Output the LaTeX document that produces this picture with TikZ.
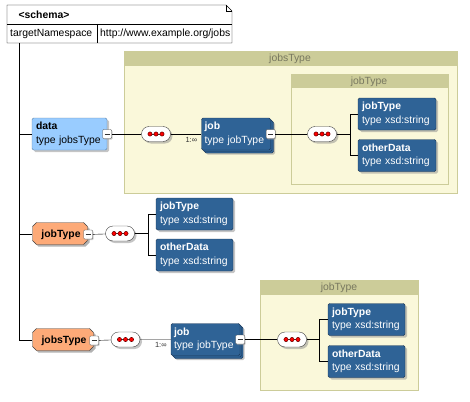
\documentclass[tikz,border=0pt]{standalone}
\usepackage{fontspec}
\setmainfont{Liberation Sans}
\usetikzlibrary{shadows}

\definecolor{elblue}{HTML}{2F6396}
\definecolor{elborder}{HTML}{1B3656}
\definecolor{ltblue}{HTML}{99CCFF}
\definecolor{ltborder}{HTML}{5F84A8}
\definecolor{elorange}{HTML}{FDAA78}
\definecolor{contfill}{HTML}{FAF8DA}
\definecolor{contband}{HTML}{CCCC99}
\definecolor{conttext}{HTML}{77775F}

\newcommand\xsdfont{\fontsize{10.4}{13.5}\selectfont}
% octagon outline inside a node, shifted by #1,#2
\newcommand\octpts[2]{([shift={(#1+4.5pt,#2-0.5pt)}]path picture bounding box.north west)
  -- ([shift={(#1-6.5pt,#2-0.5pt)}]path picture bounding box.north east)
  -- ([shift={(#1-2.5pt,#2-4.5pt)}]path picture bounding box.north east)
  -- ([shift={(#1-2.5pt,#2+6.5pt)}]path picture bounding box.south east)
  -- ([shift={(#1-6.5pt,#2+2.5pt)}]path picture bounding box.south east)
  -- ([shift={(#1+4.5pt,#2+2.5pt)}]path picture bounding box.south west)
  -- ([shift={(#1+0.5pt,#2+6.5pt)}]path picture bounding box.south west)
  -- ([shift={(#1+0.5pt,#2-4.5pt)}]path picture bounding box.north west) -- cycle}

\begin{document}
\begin{tikzpicture}[x=1pt, y=-1pt, font=\xsdfont,
    shade/.style={drop shadow={shadow xshift=2pt, shadow yshift=-2pt, fill=black!45, opacity=0.5}},
    elem/.style={draw=elborder, fill=elblue, text=white, rounded corners=1.5pt,
      align=left, text width=#1, inner xsep=4pt, inner ysep=0pt, minimum height=32pt, shade},
    dataelem/.style={elem=#1, draw=ltborder, fill=ltblue, text=black},
    multielem/.style={draw=elborder, fill=elblue, text=white, rounded corners=1.5pt,
      align=left, text width=#1, inner xsep=3pt, inner ysep=0pt, minimum height=32pt,
      drop shadow={shadow xshift=4.5pt, shadow yshift=-4.5pt, fill=black!45, opacity=0.5},
      copy shadow={shadow xshift=3pt, shadow yshift=-3pt},
      copy shadow={shadow xshift=1.5pt, shadow yshift=-1.5pt}},
    typeelem/.style={rectangle, font=\xsdfont\bfseries, minimum width=#1+2pt, minimum height=25pt,
      inner sep=0pt, path picture={
        \fill[black!30] \octpts{2pt}{-2pt};
        \filldraw[fill=elorange, draw=black!75] \octpts{0pt}{0pt};}},
    minusbox/.style={draw=black!70, fill=white, minimum size=9pt, inner sep=0pt, rounded corners=1pt,
      drop shadow={shadow xshift=1pt, shadow yshift=-1pt, fill=black!40, opacity=0.5},
      path picture={\draw[black!80, line width=0.8pt] ([xshift=2pt]path picture bounding box.west)
        -- ([xshift=-2pt]path picture bounding box.east);}},
    seqbox/.style={rounded corners=7.5pt, draw=black!75, fill=white, minimum width=29pt, minimum height=15pt,
      inner sep=0pt, shade,
      path picture={\draw[black!80] ([xshift=-8pt]path picture bounding box.center)
          -- ([xshift=8pt]path picture bounding box.center);
        \foreach \dx in {-6,0,6}
          \filldraw[fill=red, draw=red!40!black, line width=0.5pt]
            ([xshift=\dx pt]path picture bounding box.center) circle (2.1pt);}},
    card/.style={font=\fontsize{7.5}{8}\selectfont, text=black!80, inner sep=1pt, anchor=north east},
    contbox/.style={draw=contband, fill=contfill, line width=0.8pt},
    conttitle/.style={text=conttext}]
  \useasboundingbox (0,0) rectangle (470,401);

  % schema header
  \draw[fill=white] (7,5) -- (226,5) -- (232,11) -- (232,43) -- (7,43) -- cycle;
  \draw (226,5) -- (226,11) -- (232,11);
  \draw (7,24) -- (232,24) (97,24) -- (97,43);
  \node[anchor=west, font=\xsdfont\bfseries] (schema) at (15,14.5) {\textless schema\textgreater};
  \node[anchor=west, inner xsep=2pt] (tns) at (8,34) {targetNamespace};
  \node[anchor=west, inner xsep=2pt] (uri) at (98,34) {http://www.example.org/jobs};
  \coordinate (trunk) at (19,43);

  % complex type boxes
  \draw[contbox] (124,51) rectangle (457,193);
  \fill[contband] (124,51) rectangle (457,66);
  \node[conttitle] (jobsTypeT) at (290,59) {jobsType};
  \draw[contbox] (291,74) rectangle (448,184);
  \fill[contband] (291,74) rectangle (448,88);
  \node[conttitle] (jobTypeT) at (369,81.5) {jobType};
  \draw[contbox] (260,280) rectangle (418,390);
  \fill[contband] (260,280) rectangle (418,295);
  \node[conttitle] (jobTypeU) at (339,288) {jobType};

  % element data
  \node[dataelem=67pt] (data) at (69.5,134) {\textbf{data}\\type jobsType};
  \node[minusbox] (dataM) at (data.east) {};
  \node[seqbox] (seqA) at (156,134) {};
  \node[multielem=63pt] (jobA) at (236,134) {\textbf{job}\\type jobType};
  \node[card] (cardA) at ([xshift=-3pt, yshift=-2pt]jobA.west) {1:∞};
  \node[minusbox] (jobAM) at (jobA.east) {};
  \node[seqbox] (seqB) at (322,134) {};
  \node[elem=70pt] (jtA) at (397,114) {\textbf{jobType}\\type xsd:string};
  \node[elem=70pt] (odA) at (397,155.5) {\textbf{otherData}\\type xsd:string};

  % type jobType
  \node[typeelem=56pt] (jobTypeEl) at (61,234.5) {jobType};
  \node[minusbox] (jobTypeM) at ([xshift=-2pt]jobTypeEl.east) {};
  \node[seqbox] (seqC) at (120,233.5) {};
  \node[elem=69pt] (jtB) at (194.5,214) {\textbf{jobType}\\type xsd:string};
  \node[elem=69pt] (odB) at (194.5,255) {\textbf{otherData}\\type xsd:string};

  % type jobsType
  \node[typeelem=62pt] (jobsTypeEl) at (64,340.5) {jobsType};
  \node[minusbox] (jobsTypeM) at ([xshift=-2pt]jobsTypeEl.east) {};
  \node[seqbox] (seqD) at (125.5,339.5) {};
  \node[multielem=63pt] (jobB) at (205.5,339.5) {\textbf{job}\\type jobType};
  \node[card] (cardB) at ([xshift=-3pt, yshift=-2pt]jobB.west) {1:∞};
  \node[minusbox] (jobBM) at (jobB.east) {};
  \node[seqbox] (seqE) at (292,339.5) {};
  \node[elem=69pt] (jtC) at (366.5,319.5) {\textbf{jobType}\\type xsd:string};
  \node[elem=69pt] (odC) at (366.5,361.5) {\textbf{otherData}\\type xsd:string};

  % connectors
  \draw (trunk) |- (jobsTypeEl.west);
  \draw (trunk |- data.west) -- (data.west);
  \draw (trunk |- jobTypeEl.west) -- (jobTypeEl.west);
  \draw (dataM) -- (seqA) -- (jobA);
  \draw (jobAM) -- (seqB);
  \draw (seqB.east) -- ++(13,0) coordinate (brA) |- (jtA.west);
  \draw (brA) |- (odA.west);
  \draw (jobTypeM) -- (seqC);
  \draw (seqC.east) -- ++(13,0) coordinate (brB) |- (jtB.west);
  \draw (brB) |- (odB.west);
  \draw (jobsTypeM) -- (seqD) -- (jobB);
  \draw (jobBM) -- (seqE);
  \draw (seqE.east) -- ++(12.5,0) coordinate (brC) |- (jtC.west);
  \draw (brC) |- (odC.west);
\end{tikzpicture}
\end{document}
